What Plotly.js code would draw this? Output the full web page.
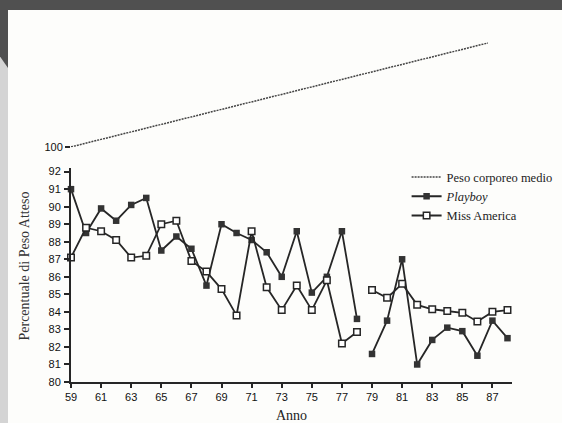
<!DOCTYPE html>
<html>
<head>
<meta charset="utf-8">
<script src="https://cdn.plot.ly/plotly-3.0.1.min.js"></script>
<style>
  html, body { margin: 0; padding: 0; width: 562px; height: 423px; overflow: hidden; background: #fdfdfb; }
  #topband { position: absolute; left: 0; top: 0; width: 562px; height: 10px; background: #505050; }
  #leftband { position: absolute; left: 0; top: 10px; width: 8px; height: 413px; background: #d4d4d4; }
  #leftdark { position: absolute; left: 0; top: 10px; width: 8px; height: 58px; background: #505050;
              clip-path: polygon(0 0, 100% 0, 100% 100%, 0 80%); }
  #chart { position: absolute; left: 8px; top: 10px; width: 554px; height: 413px; }
</style>
</head>
<body>
<div id="topband"></div>
<div id="leftband"></div>
<div id="leftdark"></div>
<div id="chart"></div>
<script>
// Years (null breaks the line between 1978 and 1979)
const years = [59,60,61,62,63,64,65,66,67,68,69,70,71,72,73,74,75,76,77,78,null,79,80,81,82,83,84,85,86,87,88];
const playboy = [91.0,88.5,89.9,89.2,90.1,90.5,87.5,88.3,87.6,85.5,89.0,88.5,88.1,87.4,86.0,88.6,85.1,86.0,88.6,83.6,null,
                 81.6,83.5,87.0,81.0,82.4,83.1,82.9,81.5,83.5,82.5];
const missAmerica = [87.1,88.8,88.6,88.1,87.1,87.2,89.0,89.2,86.9,86.3,85.3,83.8,88.6,85.4,84.1,85.5,84.1,85.8,82.2,82.85,null,
                     85.25,84.8,85.6,84.4,84.15,84.05,83.95,83.45,84.0,84.1];
const pesoYears = [59, 86.7];
const pesoMedio = [100, 106];
const xTickVals = [59,61,63,65,67,69,71,73,75,77,79,81,83,85,87];
const yTickVals = [80,81,82,83,84,85,86,87,88,89,90,91,92];

const ink = '#262626';
const traces = [
  { x: pesoYears, y: pesoMedio, xaxis: 'x', yaxis: 'y2', mode: 'lines', name: 'Peso corporeo medio',
    line: { color: '#444', width: 1.5, dash: '2px,1px' }, cliponaxis: false },
  { x: years, y: playboy, mode: 'lines+markers', name: '<i>Playboy</i>', connectgaps: false,
    line: { color: ink, width: 1.8 }, marker: { symbol: 'square', size: 6.5, color: '#333' }, cliponaxis: false },
  { x: years, y: missAmerica, mode: 'lines+markers', name: 'Miss America', connectgaps: false,
    line: { color: ink, width: 1.8 }, marker: { symbol: 'square', size: 6.5, color: '#fff', line: { color: ink, width: 1.5 } },
    cliponaxis: false }
];

const tickFont = { family: 'Liberation Sans, Arial, sans-serif', size: 11, color: '#111' };
const serif = 'Liberation Serif, Times New Roman, serif';

const layout = {
  width: 554, height: 413,
  margin: { l: 63, r: 50, t: 20, b: 41.3, autoexpand: false },
  paper_bgcolor: '#fdfdfb', plot_bgcolor: '#fdfdfb',
  showlegend: true,
  legend: { x: 0.761, y: 0.624, xanchor: 'left', yanchor: 'top', bgcolor: 'rgba(0,0,0,0)',
            font: { family: serif, size: 12.5, color: '#222' }, tracegroupgap: 0 },
  xaxis: {
    range: [59, 88.3], tickvals: xTickVals, ticks: 'outside', ticklen: 4, tickwidth: 2, tickcolor: ink,
    showline: true, linecolor: ink, linewidth: 2, showgrid: false, zeroline: false, tickfont: tickFont,
    anchor: 'y', automargin: false,
    title: { text: 'Anno', font: { family: serif, size: 14, color: '#222' }, standoff: 11 }
  },
  yaxis: {
    domain: [0, 0.6076], range: [80, 92.2], tickvals: yTickVals, ticks: 'outside', ticklen: 5, tickwidth: 2, tickcolor: ink,
    showline: true, linecolor: ink, linewidth: 2, showgrid: false, zeroline: false, tickfont: tickFont, ticklabelstandoff: 1,
    automargin: false
  },
  yaxis2: {
    domain: [0.667, 1], range: [99.98, 106.75], tickvals: [100], ticks: 'outside', ticklen: 5, tickwidth: 2, tickcolor: ink,
    showline: false, showgrid: false, zeroline: false, tickfont: tickFont, anchor: 'x', automargin: false
  },
  annotations: [
    { text: 'Percentuale di Peso Atteso', textangle: -90, xref: 'paper', yref: 'paper', x: -0.105, y: 0.33,
      xanchor: 'center', yanchor: 'middle', showarrow: false, font: { family: serif, size: 14, color: '#333' } }
  ]
};

Plotly.newPlot('chart', traces, layout, { displayModeBar: false, staticPlot: true });
</script>
</body>
</html>
